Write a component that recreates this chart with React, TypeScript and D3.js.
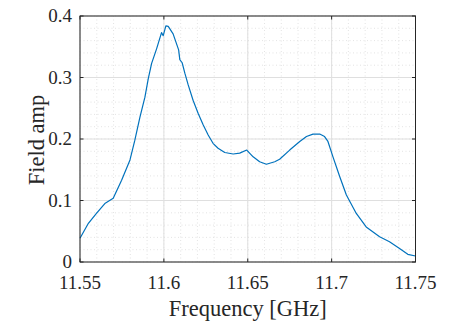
import React from "react";
import * as d3 from "d3";

const freq = [11.55, 11.555, 11.5598, 11.5648, 11.5698, 11.5748, 11.5798, 11.5827, 11.5857, 11.5887, 11.5907, 11.5927, 11.5957, 11.5986, 11.5996, 11.6012, 11.6026, 11.6055, 11.6088, 11.6095, 11.6109, 11.6125, 11.6145, 11.6174, 11.6204, 11.6234, 11.6264, 11.6293, 11.6323, 11.6363, 11.6413, 11.6452, 11.6494, 11.6532, 11.6571, 11.6611, 11.6661, 11.669, 11.675, 11.681, 11.685, 11.6889, 11.6929, 11.6958, 11.6978, 11.7008, 11.7048, 11.7088, 11.7147, 11.7206, 11.7286, 11.7345, 11.7405, 11.7454, 11.75];
const amp = [0.0385, 0.063, 0.079, 0.095, 0.1035, 0.133, 0.166, 0.198, 0.235, 0.268, 0.298, 0.323, 0.347, 0.373, 0.368, 0.384, 0.383, 0.371, 0.345, 0.329, 0.324, 0.307, 0.288, 0.263, 0.242, 0.223, 0.2065, 0.193, 0.185, 0.178, 0.1756, 0.177, 0.182, 0.171, 0.163, 0.159, 0.163, 0.167, 0.182, 0.196, 0.204, 0.208, 0.208, 0.204, 0.196, 0.171, 0.139, 0.109, 0.079, 0.057, 0.041, 0.033, 0.022, 0.0125, 0.0098];

const xTicks = [11.55, 11.6, 11.65, 11.7, 11.75];
const xTickLabels = ["11.55", "11.6", "11.65", "11.7", "11.75"];
const yTicks = [0, 0.1, 0.2, 0.3, 0.4];
const yTickLabels = ["0", "0.1", "0.2", "0.3", "0.4"];
const xMinor = d3.range(0, 21).map((i) => 11.55 + i * 0.01);
const yMinor = d3.range(0, 21).map((i) => i * 0.02);

export default function App() {
  const L = 80, R = 415.5, T = 16, B = 262;
  const x = d3.scaleLinear().domain([11.55, 11.75]).range([L, R]);
  const y = d3.scaleLinear().domain([0, 0.4]).range([B, T]);
  const line = d3.line<number>().x((_, i) => x(freq[i])).y((d) => y(d));
  const font = "'Liberation Serif', 'Times New Roman', serif";
  const axisColor = "#262626";
  return (
    <svg width={458} height={323} style={{ position: "absolute", left: 0, top: 0 }}>
      <rect x={0} y={0} width={458} height={323} fill="#fff" />
      {xMinor.map((v, i) => (
        <line key={"xm" + i} x1={x(v)} x2={x(v)} y1={T} y2={B} stroke="#dcdcdc" strokeWidth={0.8} strokeDasharray="1,2.5" />
      ))}
      {yMinor.map((v, i) => (
        <line key={"ym" + i} x1={L} x2={R} y1={y(v)} y2={y(v)} stroke="#dcdcdc" strokeWidth={0.8} strokeDasharray="1,2.5" />
      ))}
      {xTicks.map((v, i) => (
        <line key={"xg" + i} x1={x(v)} x2={x(v)} y1={T} y2={B} stroke="#dfdfdf" strokeWidth={1} />
      ))}
      {yTicks.map((v, i) => (
        <line key={"yg" + i} x1={L} x2={R} y1={y(v)} y2={y(v)} stroke="#dfdfdf" strokeWidth={1} />
      ))}
      <path d={line(amp) || ""} fill="none" stroke="#0072BD" strokeWidth={1.2} strokeLinejoin="round" />
      <rect x={L} y={T} width={R - L} height={B - T} fill="none" stroke={axisColor} strokeWidth={1} />
      {xTicks.map((v, i) => (
        <g key={"xt" + i}>
          <line x1={x(v)} x2={x(v)} y1={B} y2={B - 3.5} stroke={axisColor} />
          <line x1={x(v)} x2={x(v)} y1={T} y2={T + 3.5} stroke={axisColor} />
          <text x={x(v)} y={289} textAnchor="middle" fontFamily={font} fontSize={19} fill={axisColor}>
            {xTickLabels[i]}
          </text>
        </g>
      ))}
      {yTicks.map((v, i) => (
        <g key={"yt" + i}>
          <line x1={L} x2={L + 3.5} y1={y(v)} y2={y(v)} stroke={axisColor} />
          <line x1={R} x2={R - 3.5} y1={y(v)} y2={y(v)} stroke={axisColor} />
          <text x={72} y={y(v) + 6} textAnchor="end" fontFamily={font} fontSize={19} fill={axisColor}>
            {yTickLabels[i]}
          </text>
        </g>
      ))}
      <text x={(L + R) / 2} y={316} textAnchor="middle" fontFamily={font} fontSize={22.5} fill={axisColor}>
        Frequency [GHz]
      </text>
      <text transform="translate(44, 140) rotate(-90)" textAnchor="middle" fontFamily={font} fontSize={22.5} fill={axisColor}>
        Field amp
      </text>
    </svg>
  );
}
